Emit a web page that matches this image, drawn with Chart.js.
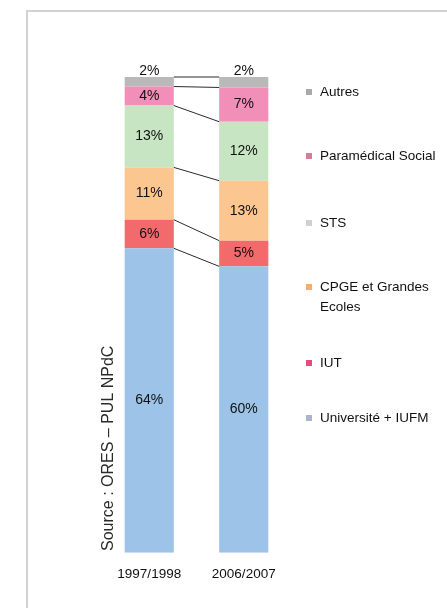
<!DOCTYPE html>
<html>
<head>
<meta charset="utf-8">
<script src="https://cdn.jsdelivr.net/npm/chart.js@4"></script>
<style>
    html, body { margin: 0; padding: 0; background: #fff; }
    .page { position: relative; width: 447px; height: 608px; overflow: hidden; }
    .frame { position: absolute; left: 26px; top: 10px; width: 460px; height: 640px; border: 2px solid #d2d2d2; box-sizing: border-box; }
    .chart-box { position: absolute; left: 0; top: 0; width: 447px; height: 608px; }
    .legend { position: absolute; left: 0; top: 0; }
    .legend-item { position: absolute; left: 306px; width: 124px; font: 13.5px "Liberation Sans", Arial, sans-serif; color: #111; line-height: 20px; padding-left: 14px; }
    .legend-item .swatch { position: absolute; left: 0; top: 7px; width: 6px; height: 6px; }
</style>
</head>
<body>
<div class="page">
    <div class="frame"></div>
    <div class="chart-box"><canvas id="chart"></canvas></div>
    <div class="legend" id="legend"></div>
</div>
<script>
// Data (shares in %)
const categories = ['1997/1998', '2006/2007'];
const seriesNames = ['Université + IUFM', 'IUT', 'CPGE et Grandes Ecoles', 'STS', 'Paramédical Social', 'Autres'];
const universite = [64, 60.2];
const iut = [6, 5.4];
const cpge = [11, 12.6];
const sts = [13, 12.4];
const paramedical = [4, 7.2];
const autres = [2, 2.2];
const yTicks = [0, 100];

const barColors = ['#9dc3e8', '#f36a6d', '#fcc691', '#c8e5c3', '#f28fb9', '#b9b9b9'];
const legendColors = ['#adb5cc', '#e64b7e', '#f4ae6c', '#d0d0d0', '#d87b95', '#a9a9a9'];
const seriesValues = [universite, iut, cpge, sts, paramedical, autres];

// Lines joining the segment tops of the two bars
const connectors = {
    id: 'connectors',
    afterDatasetsDraw(chart) {
        const ctx = chart.ctx;
        ctx.save();
        ctx.strokeStyle = '#2a2a2a';
        ctx.lineWidth = 1;
        chart.data.datasets.forEach((ds, i) => {
            const bars = chart.getDatasetMeta(i).data;
            const a = bars[0], b = bars[1];
            ctx.beginPath();
            ctx.moveTo(a.x + a.width / 2, a.y);
            ctx.lineTo(b.x - b.width / 2, b.y);
            ctx.stroke();
        });
        ctx.restore();
    }
};

// Percentage labels in each segment (top one sits above the bar)
const segmentLabels = {
    id: 'segmentLabels',
    afterDatasetsDraw(chart) {
        const ctx = chart.ctx;
        const last = chart.data.datasets.length - 1;
        ctx.save();
        ctx.font = '14px "Liberation Sans", Arial, sans-serif';
        ctx.fillStyle = '#111';
        ctx.textAlign = 'center';
        ctx.textBaseline = 'middle';
        chart.data.datasets.forEach((ds, i) => {
            chart.getDatasetMeta(i).data.forEach((bar, j) => {
                const y = i === last ? bar.y - 6 : (bar.y + bar.base) / 2;
                ctx.fillText(Math.round(ds.data[j]) + '%', bar.x, y);
            });
        });
        ctx.restore();
    }
};

// Rotated source note at the left
const sourceNote = {
    id: 'sourceNote',
    afterDraw(chart) {
        const ctx = chart.ctx;
        ctx.save();
        ctx.translate(109, 551);
        ctx.rotate(-Math.PI / 2);
        ctx.font = '16px "Liberation Sans", Arial, sans-serif';
        ctx.fillStyle = '#2a2a2a';
        ctx.textAlign = 'left';
        ctx.textBaseline = 'middle';
        ctx.fillText('Source : ORES \u2013 PUL NPdC', 0, 0);
        ctx.restore();
    }
};

const datasets = seriesNames.map((name, i) => ({
    label: name,
    data: seriesValues[i],
    backgroundColor: barColors[i],
    borderWidth: 0,
    barPercentage: 1,
    categoryPercentage: 0.52
}));

new Chart(document.getElementById('chart'), {
    type: 'bar',
    data: { labels: categories, datasets: datasets },
    options: {
        responsive: true,
        maintainAspectRatio: false,
        animation: false,
        layout: { padding: { left: 102, right: 156, top: 77, bottom: 13 } },
        plugins: {
            legend: { display: false },
            tooltip: { enabled: false }
        },
        scales: {
            x: {
                stacked: true,
                grid: { display: false, drawTicks: false },
                border: { display: false },
                ticks: {
                    padding: 13,
                    color: '#111',
                    font: { family: '"Liberation Sans", Arial, sans-serif', size: 13.5 }
                }
            },
            y: {
                stacked: true,
                display: false,
                min: yTicks[0],
                max: yTicks[1]
            }
        }
    },
    plugins: [connectors, segmentLabels, sourceNote]
});

// Legend on the right, top item first
const legendTops = [82, 146, 213, 277, 353, 408];
const legendEl = document.getElementById('legend');
seriesNames.slice().reverse().forEach((name, k) => {
    const i = seriesNames.length - 1 - k;
    const item = document.createElement('div');
    item.className = 'legend-item';
    item.style.top = legendTops[k] + 'px';
    const sw = document.createElement('span');
    sw.className = 'swatch';
    sw.style.background = legendColors[i];
    item.appendChild(sw);
    item.appendChild(document.createTextNode(name));
    legendEl.appendChild(item);
});
</script>
</body>
</html>
